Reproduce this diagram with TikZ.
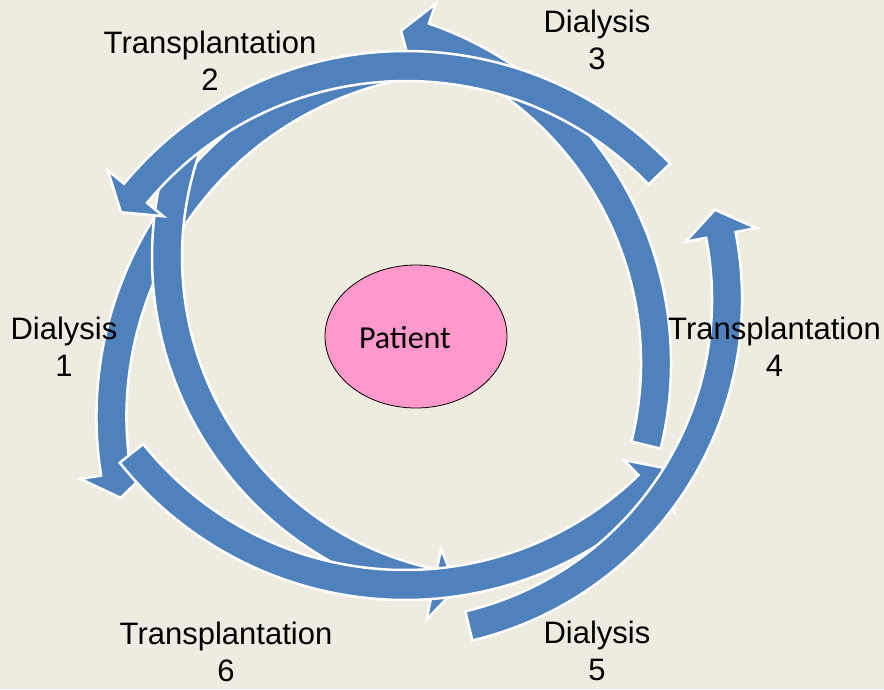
\documentclass[tikz,border=0pt]{standalone}
\usepackage{fontspec}
\setmainfont{Liberation Sans}
\newfontfamily\calibrifont{Carlito}
\usetikzlibrary{shapes.geometric}
\definecolor{txBlue}{HTML}{4F81BD}
\definecolor{txPink}{HTML}{FF99CC}
\definecolor{txSand}{HTML}{EEECE1}
\tikzset{
  tx arrow/.style={fill=txBlue, draw=white, line width=2.5pt},
  tx label/.style={font=\fontsize{31}{37}\selectfont, align=center, anchor=base, inner sep=0pt},
  tx patient/.style={ellipse, draw=black, fill=txPink, line width=0.8pt, minimum width=182pt, minimum height=143pt, inner sep=0pt},
}

\begin{document}
\begin{tikzpicture}[x=1pt, y=-1pt]
  % backdrop, same size as the page
  \fill[txSand] (0,0) rectangle (884,689);
  \useasboundingbox (0,0) rectangle (884,689);
  % six curved block arrows, lowest one first
  % centre x/centre y/radius/tail angle/head base angle/tip angle
  \foreach \cx/\cy/\rad/\tail/\base/\tip in {
      471/417/359.5/257.8/171/167,
      501/257/334/200/101.6/97.6,
      312/363/344/13.8/-71/-75,
      405/235/350/141.4/45.8/41.8,
      391/299/336/76.6/-11/-15.4,
      406/417/351/-43.8/-140.4/-144.3}
  {
    \pgfmathsetmacro\rOut{\rad+15}
    \pgfmathsetmacro\rIn{\rad-15}
    \pgfmathsetmacro\bOut{\rad+36}
    \pgfmathsetmacro\bIn{\rad-36}
    \draw[tx arrow, shift={(\cx,\cy)}]
      (\tail:\rOut) arc[start angle=\tail, end angle=\base, radius=\rOut]
      -- (\base:\bOut) -- (\tip:\rad) -- (\base:\bIn) -- (\base:\rIn)
      arc[start angle=\base, end angle=\tail, radius=\rIn] -- cycle;
  }
  % patient in the middle
  \node[tx patient] (patient) at (416,336.5) {};
  \node[font=\calibrifont\fontsize{32}{38}\selectfont, inner sep=0pt] (patient name) at (405,338) {Patient};
  % stage labels round the cycle (base = last line)
  \node[tx label] (dial1) at (64,376.5) {Dialysis\\1};
  \node[tx label] (trans2) at (210,90) {Transplantation\\2};
  \node[tx label] (dial3) at (597,69.5) {Dialysis\\3};
  \node[tx label] (trans4) at (774.5,376.5) {Transplantation\\4};
  \node[tx label] (dial5) at (597,680) {Dialysis\\5};
  \node[tx label] (trans6) at (226,681.5) {Transplantation\\6};
\end{tikzpicture}
\end{document}
